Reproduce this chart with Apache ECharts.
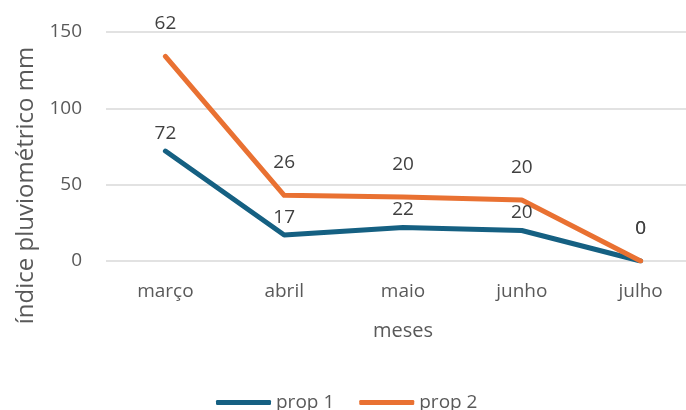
<!DOCTYPE html>
<html>
<head>
<meta charset="utf-8">
<script src="https://cdn.jsdelivr.net/npm/echarts@6/dist/echarts.min.js"></script>
<style>
  html, body { margin: 0; padding: 0; background: #fff; }
  #chart { width: 686px; height: 410px; }
</style>
</head>
<body>
<div id="chart"></div>
<script>
// dados do gráfico
const meses = ['março', 'abril', 'maio', 'junho', 'julho'];
const prop1 = [72, 17, 22, 20, 0];
const prop2 = [62, 26, 20, 20, 0];
const yTicks = { min: 0, max: 150, interval: 50 };

const fonte = '"Open Sans", Inter, sans-serif';
const chart = echarts.init(document.getElementById('chart'));

// estilo comum das séries
function serie(nome, dados, cor, dist) {
  const ultimo = dados.length - 1;
  return {
    name: nome,
    type: 'line',
    stack: 'total',
    // rótulo do último ponto fica na mesma altura para as duas séries
    data: dados.map((v, i) => i === ultimo ? { value: v, label: { distance: 23 } } : v),
    color: cor,
    showSymbol: true,
    symbol: 'circle',
    symbolSize: 0.1,
    lineStyle: { width: 5, cap: 'round', join: 'round' },
    label: { show: true, position: 'top', distance: dist, fontSize: 19, color: '#404040', fontFamily: fonte }
  };
}

const option = {
  animation: false,
  textStyle: { fontFamily: fonte },
  grid: { left: 106, right: -14, top: 32, bottom: 149, outerBoundsMode: 'none' },
  legend: {
    left: 211,
    top: 388,
    itemWidth: 55,
    itemHeight: 5,
    itemGap: 25,
    icon: 'roundRect',
    textStyle: { fontSize: 19, color: '#595959', fontFamily: fonte },
    data: ['prop 1', 'prop 2']
  },
  xAxis: {
    type: 'category',
    data: meses,
    boundaryGap: true,
    name: 'meses',
    nameLocation: 'middle',
    nameGap: 60,
    nameTextStyle: { fontSize: 20, color: '#595959', fontFamily: fonte },
    axisLine: { show: false },
    axisTick: { show: false },
    axisLabel: { margin: 21, fontSize: 19, color: '#595959', fontFamily: fonte }
  },
  yAxis: {
    type: 'value',
    min: yTicks.min,
    max: yTicks.max,
    interval: yTicks.interval,
    name: 'índice pluviométrico mm',
    nameLocation: 'middle',
    nameRotate: 90,
    nameGap: 68,
    nameTextStyle: { fontSize: 24, color: '#595959', fontFamily: fonte, padding: [0, 78, 0, 0] },
    axisLine: { show: false },
    axisTick: { show: false },
    axisLabel: { margin: 24, fontSize: 19, color: '#595959', fontFamily: fonte },
    splitLine: { lineStyle: { color: '#d9d9d9', width: 1.5 } }
  },
  series: [
    serie('prop 1', prop1, '#156082', 8),
    serie('prop 2', prop2, '#e97132', 23)
  ]
};

chart.setOption(option);
</script>
</body>
</html>
